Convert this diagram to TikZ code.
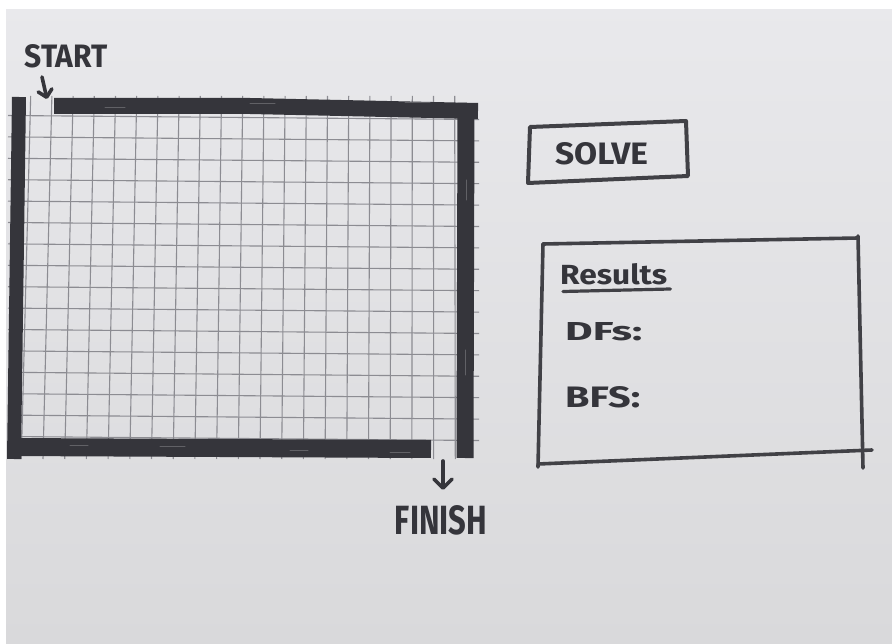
\documentclass[tikz,border=0pt]{standalone}
\usepackage{graphicx}
\usepackage{fontspec}
\setmainfont{Fira Sans}
\usetikzlibrary{arrows.meta}
\definecolor{papertop}{HTML}{E9E9EC}
\definecolor{paperbot}{HTML}{D9D9DB}
\definecolor{ink}{HTML}{35353B}
\definecolor{pencol}{HTML}{414146}
\definecolor{gridc}{HTML}{8C8C92}
\begin{document}
\begin{tikzpicture}[x=1pt,y=-1pt,
  marker/.style={ink, line width=15pt, line cap=butt, line join=round},
  streak/.style={ink!78!white, line width=1pt, line cap=round},
  pen/.style={pencol, line width=3.6pt, line cap=round, line join=round},
  gridline/.style={gridc, line width=1.1pt},
  handtext/.style={inner sep=0pt, text=ink, font=\bfseries},
  arrowpen/.style={ink, line width=3.6pt, line cap=round,
    -{Straight Barb[length=7pt,width=14pt,round]}}
]
% paper
\useasboundingbox (0,0) rectangle (892,644);
\shade[top color=papertop, bottom color=paperbot] (0,0) rectangle (892,644);
\fill[white] (0,0) rectangle (892,9);
\fill[white] (0,0) rectangle (6,644);

% grid
\foreach \k in {0,...,20}
  \draw[gridline] ({30.7+21.2*\k},96) -- ({21.3+21.7*\k},459);
\foreach \j in {0,...,15}
  \draw[gridline] (8,{115.5+21.4*\j}) -- (479,{119.5+21.4*\j});

% maze walls (marker)
\draw[marker, line width=16pt] (54,106) -- (250,106) -- (478,111);
\draw[marker, line width=14pt] (19,97) -- (14,459);
\draw[marker, line width=17pt] (466,103) -- (465,458);
\draw[marker, line width=18pt] (8,447) -- (431,449);
% marker streaks
\draw[streak] (105,108) -- (125,108);
\draw[streak] (250,104) -- (275,104);
\draw[streak] (405,103) -- (430,103);
\draw[streak] (466,180) -- (466,200);
\draw[streak] (465,350) -- (465,375);
\draw[streak] (70,445) -- (88,445);
\draw[streak] (160,446) -- (185,446);
\draw[streak] (290,450) -- (308,450);
\draw[streak] (390,452) -- (410,452);

% START label and arrow
\node[handtext] (start) at (66,56) {\resizebox{83pt}{23pt}{START}};
\coordinate (entry) at (47,99);
\draw[arrowpen] ([xshift=-24pt,yshift=-9pt]start.south) -- (entry);

% FINISH label and arrow
\node[handtext] (finish) at (441,520) {\resizebox{92pt}{29pt}{FINISH}};
\coordinate (exitgap) at (443,461);
\draw[arrowpen, -{Straight Barb[length=9pt,width=18pt,round]}] (exitgap) -- ([xshift=2pt,yshift=15pt]finish.north);

% SOLVE button
\coordinate (s1) at (530,127);
\coordinate (s2) at (686,121);
\coordinate (s3) at (688,176);
\coordinate (s4) at (528,183);
\draw[pen, line width=4pt] (s1) -- (s2) -- (s3) -- (s4) -- cycle;
\node[handtext] (solve) at (601.5,153.5) {\resizebox{93pt}{22pt}{SOLVE}};

% Results panel
\coordinate (r1) at (543,244);
\coordinate (r2) at (858,238);
\coordinate (r3) at (863,452);
\coordinate (r4) at (538,464);
\draw[pen] (r1) -- (r2);
\draw[pen] ([yshift=2pt]r2) -- (863,468);
\draw[pen] (r4) -- (872,450);
\draw[pen] (r1) -- (538,467);
\node[handtext, anchor=south west] (results) at (560,285) {\resizebox{107pt}{21pt}{Results}};
\draw[pen, line width=3.2pt] ([xshift=3pt,yshift=-6.5pt]results.south west) -- ([xshift=3pt,yshift=-4pt]results.south east);
\node[handtext, anchor=south west] (dfs) at (565,341) {\resizebox{77pt}{18pt}{DFs:}};
\node[handtext, anchor=south west] (bfs) at (565,408) {\resizebox{75pt}{21pt}{BFS:}};
\end{tikzpicture}
\end{document}
